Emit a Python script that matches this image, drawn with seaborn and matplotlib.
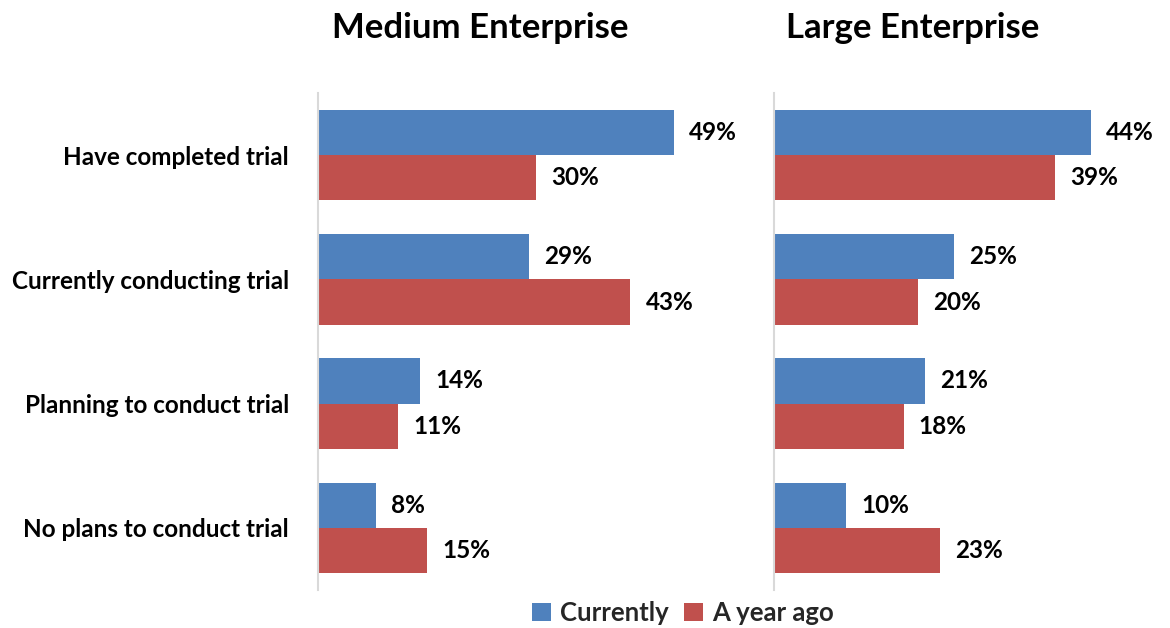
import matplotlib
matplotlib.use("Agg")
import matplotlib.pyplot as plt
from matplotlib.patches import Patch
import seaborn as sns
import pandas as pd

categories = ["Have completed trial", "Currently conducting trial",
              "Planning to conduct trial", "No plans to conduct trial"]
series = ["Currently", "A year ago"]
medium_currently = [49, 29, 14, 8]
medium_year_ago = [30, 43, 11, 15]
large_currently = [44, 25, 21, 10]
large_year_ago = [39, 20, 18, 23]
panel_titles = ["Medium Enterprise", "Large Enterprise"]

colors = {"Currently": "#4f81bd", "A year ago": "#c0504d"}


def long_frame(cur, ago):
    rows = []
    for c, v in zip(categories, cur):
        rows.append({"category": c, "series": "Currently", "value": v})
    for c, v in zip(categories, ago):
        rows.append({"category": c, "series": "A year ago", "value": v})
    return pd.DataFrame(rows)


sns.set_theme(style="white")
plt.rcParams["font.family"] = ["Lato", "DejaVu Sans"]
plt.rcParams["font.weight"] = "bold"

W, H = 1170, 628
fig = plt.figure(figsize=(W / 100, H / 100), dpi=100)


def px_axes(x0, y0, x1, y1):
    return fig.add_axes([x0 / W, 1 - y1 / H, (x1 - x0) / W, (y1 - y0) / H])


ax_m = px_axes(318, 93, 754, 590)
ax_l = px_axes(774, 93, 1134, 590)

panels = [(ax_m, long_frame(medium_currently, medium_year_ago), 60),
          (ax_l, long_frame(large_currently, large_year_ago), 50)]

for i, (ax, df, xmax) in enumerate(panels):
    sns.barplot(data=df, y="category", x="value", hue="series",
                hue_order=series, order=categories, palette=colors,
                orient="h", width=0.73, ax=ax, legend=False,
                saturation=1, edgecolor="none", linewidth=0)
    ax.set_xlim(0, xmax)
    ax.set_ylim(3.5, -0.5)
    for container in ax.containers:
        ax.bar_label(container, labels=[f"{v:.0f}%" for v in container.datavalues],
                     padding=11, fontsize=17.5, fontweight="bold", color="black")
    for s in ["top", "right", "bottom"]:
        ax.spines[s].set_visible(False)
    ax.spines["left"].set_color("#d9d9d9")
    ax.spines["left"].set_linewidth(1.5)
    ax.set_xticks([])
    ax.set_xlabel("")
    ax.set_ylabel("")
    ax.tick_params(axis="y", length=0, pad=21)
    if i == 0:
        ax.set_yticks(range(len(categories)))
        ax.set_yticklabels(categories, fontsize=17.5, fontweight="bold", color="black")
    else:
        ax.set_yticklabels([])

fig.text(480 / W, 1 - 28 / H, panel_titles[0], ha="center", va="center",
         fontsize=25, fontweight="bold", color="black")
fig.text(913 / W, 1 - 28 / H, panel_titles[1], ha="center", va="center",
         fontsize=25, fontweight="bold", color="black")

handles = [Patch(facecolor=colors[s], edgecolor="none", label=s) for s in series]
fig.legend(handles=handles, loc="center", bbox_to_anchor=(683 / W, 1 - 613 / H),
           ncol=2, frameon=False, prop={"size": 18.5, "weight": "bold"},
           handlelength=0.75, handleheight=0.75, handletextpad=0.35, columnspacing=0.6)

fig.savefig("out.png", dpi=100, facecolor="white")
